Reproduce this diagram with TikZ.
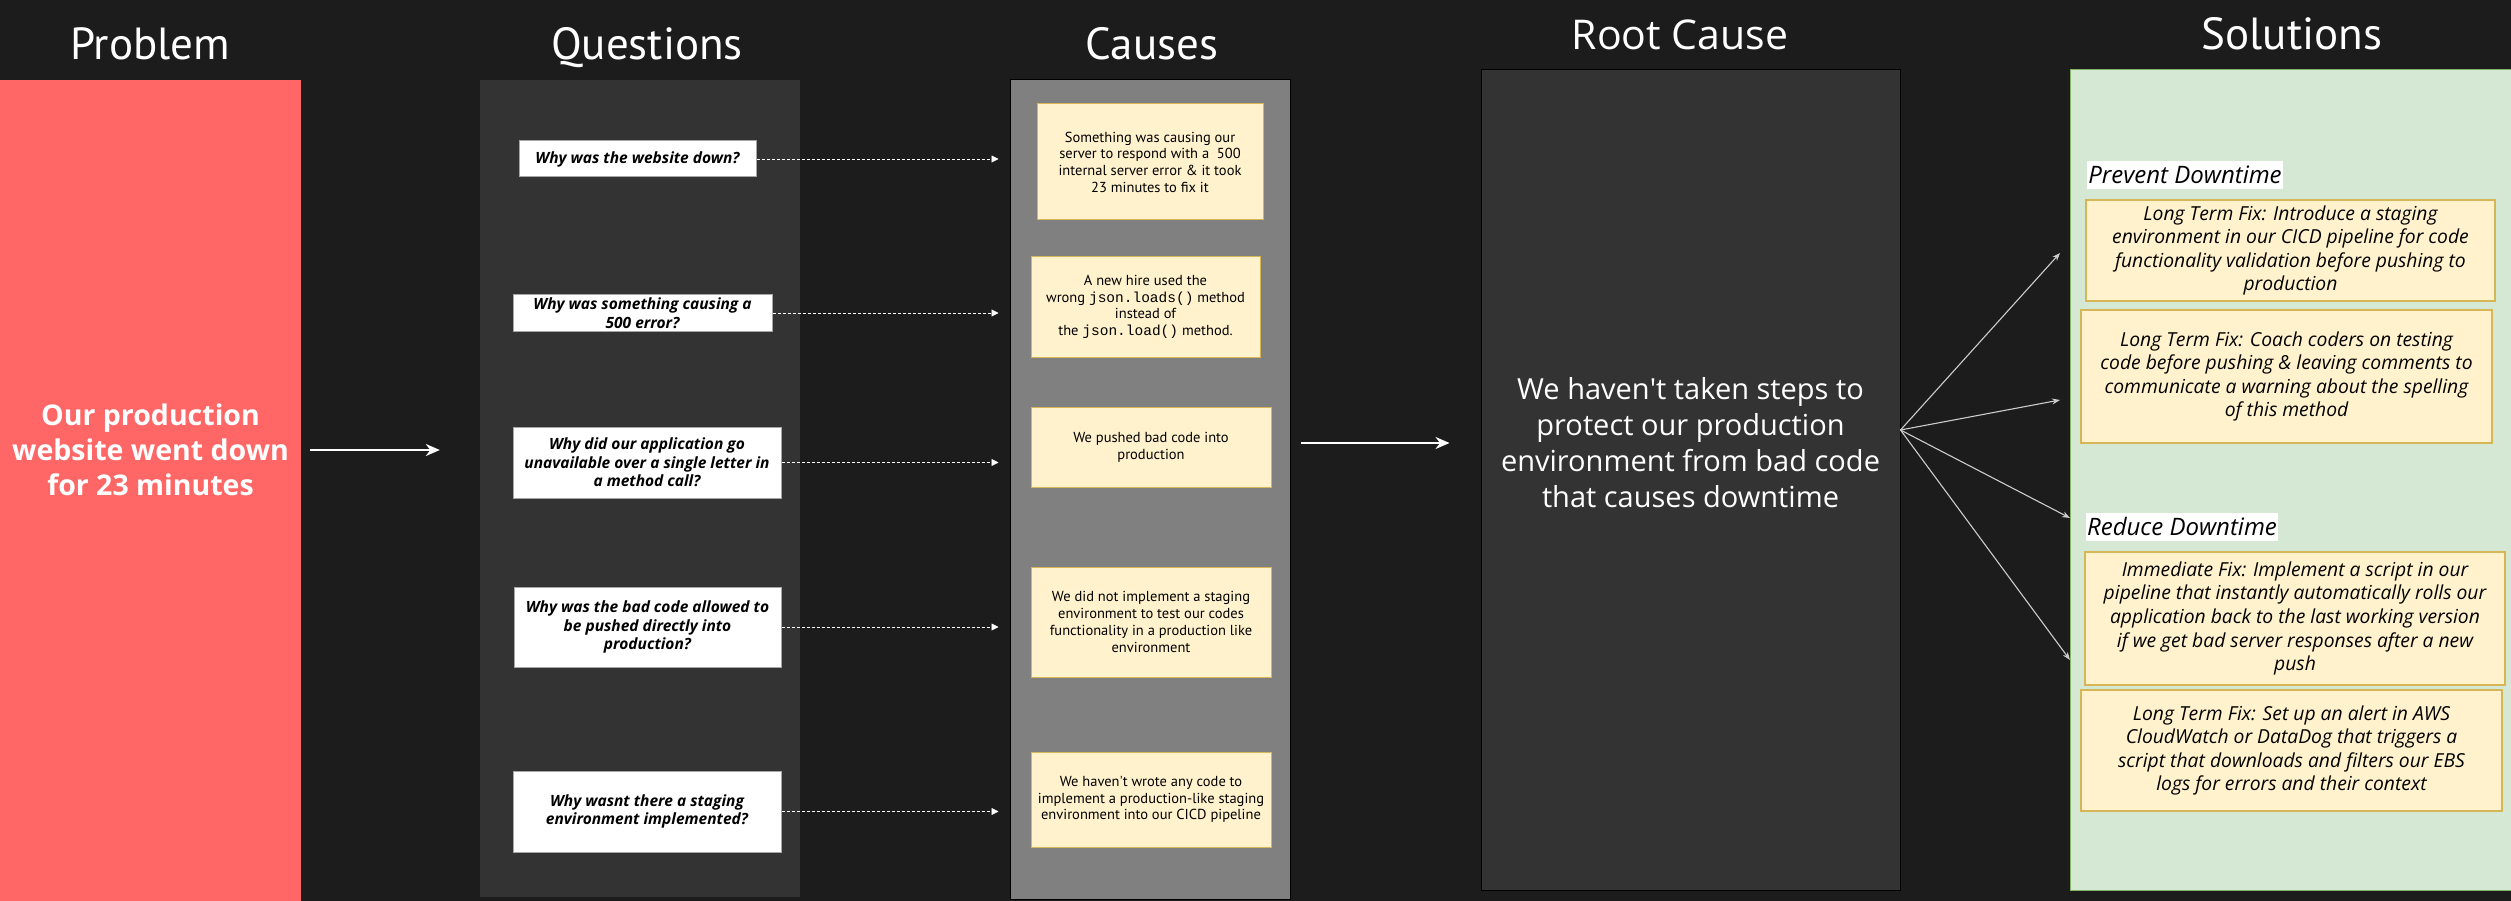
\documentclass[tikz,border=0pt]{standalone}
\usepackage{fontspec}
\setmainfont{Open Sans}
\newfontfamily\handfont{PT Sans}
\setmonofont{Liberation Mono}
\usetikzlibrary{arrows.meta,positioning}

\definecolor{bgdark}{HTML}{1C1C1C}
\definecolor{probred}{HTML}{FF6666}
\definecolor{darkpanel}{HTML}{333333}
\definecolor{greypanel}{HTML}{808080}
\definecolor{notefill}{HTML}{FFF2CC}
\definecolor{noteline}{HTML}{D6B656}
\definecolor{solfill}{HTML}{D5E8D4}
\definecolor{solline}{HTML}{82B366}

\newcommand{\headfont}{\handfont\fontsize{45}{50}\selectfont}
\newcommand{\probfont}{\bfseries\fontsize{28.5}{35}\selectfont}
\newcommand{\rootfont}{\fontsize{29}{36}\selectfont}
\newcommand{\questfont}{\bfseries\itshape\fontsize{15.5}{18.7}\selectfont}
\newcommand{\causefont}{\handfont\fontsize{14.5}{16.7}\selectfont}
\newcommand{\fixfont}{\itshape\fontsize{19.3}{23.6}\selectfont}

\begin{document}
\begin{tikzpicture}[x=1pt,y=-1pt,
  box/.style={rectangle,inner sep=0pt,align=center},
  panel/.style={box,draw=black,line width=1pt},
  heading/.style={text=white,anchor=base,font=\headfont},
  question/.style={box,fill=white,draw=gray!70,line width=1pt,font=\questfont},
  cause/.style={box,fill=notefill,draw=noteline,line width=1pt,font=\causefont},
  fix/.style={box,fill=notefill,draw=noteline,line width=1.5pt,font=\fixfont},
  tag/.style={fill=white,text=black,inner xsep=1pt,inner ysep=0pt,minimum height=28pt,font=\itshape\fontsize{24}{28}\selectfont},
  bigarrow/.style={draw=white,line width=2pt,-{Stealth[length=14pt,width=12pt]}},
  dasharrow/.style={draw=white,line width=0.8pt,dash pattern=on 3pt off 2pt,-{Triangle[length=7pt,width=7pt]}},
  fanarrow/.style={draw=gray!40,line width=1.1pt,-{Stealth[length=8pt,width=6pt]}}]
\useasboundingbox (0,0) rectangle (2511,901);
\fill[bgdark] (0,0) rectangle (2511,901);

% column titles
\node[heading] (tprob) at (150,60) {Problem};
\node[heading] (tquest) at (647,60) {Questions};
\node[heading] (tcause) at (1152,60) {Causes};
\node[heading,font=\fontsize{41}{46}\selectfont] (troot) at (1680,50) {Root Cause};
\node[heading] (tsol) at (2292,50) {Solutions};

% panels
\node[box,fill=probred,minimum width=301pt,minimum height=821pt] (prob) at (150.5,490.5) {};
\node[box,text=white,font=\probfont] (probtext) at (150.5,450) {Our production\\website went down\\for 23 minutes};
\node[box,fill=darkpanel,minimum width=320pt,minimum height=817pt] (qpanel) at (640,488.5) {};
\node[panel,fill=greypanel,minimum width=280pt,minimum height=819pt] (causes) at (1150,489.5) {};
\node[panel,fill=darkpanel,minimum width=419pt,minimum height=820pt] (root) at (1690.5,480) {};
\node[box,text=white,font=\rootfont] (roottext) at (1690.5,443) {We haven\textquotesingle t taken steps to\\protect our production\\environment from bad code\\that causes downtime};
\node[panel,draw=solline,fill=solfill,minimum width=445pt,minimum height=820pt] (sol) at (2292.5,480) {};

% questions
\node[question,minimum width=237pt,minimum height=36pt] (q1) at (637.5,159) {Why was the website down?};
\node[question,minimum width=259pt,minimum height=36pt] (q2) at (642.5,313) {Why was something causing a\\500 error?};
\node[question,minimum width=268pt,minimum height=71pt] (q3) at (647,462.5) {Why did our application go\\unavailable over a single letter in\\a method call?};
\node[question,minimum width=267pt,minimum height=80pt] (q4) at (647.5,627) {Why was the bad code allowed to\\be pushed directly into\\production?};
\node[question,minimum width=268pt,minimum height=81pt] (q5) at (647,811.5) {Why wasnt there a staging\\environment implemented?};

% causes
\node[cause,minimum width=226pt,minimum height=116pt] (c1) at (1150,162) {Something was causing our\\server to respond with a \ 500\\internal server error \& it took\\23 minutes to fix it};
\node[cause,minimum width=229pt,minimum height=100pt] (c2) at (1145.5,307) {A new hire used the\\wrong \texttt{json.loads()} method\\instead of\\the \texttt{json.load()} method.};
\node[cause,minimum width=240pt,minimum height=80pt] (c3) at (1151,447) {We pushed bad code into\\production};
\node[cause,minimum width=240pt,minimum height=110pt] (c4) at (1151,622) {We did not implement a staging\\environment to test our codes\\functionality in a production like\\environment};
\node[cause,minimum width=240pt,minimum height=95pt] (c5) at (1151,799.5) {We haven\textquotesingle t wrote any code to\\implement a production-like staging\\environment into our CICD pipeline};

% solutions
\node[tag] (prevent) at (2185,175) {Prevent Downtime};
\node[fix,minimum width=409pt,minimum height=101pt] (s1) at (2290.5,250.5) {Long Term Fix: Introduce a staging\\environment in our CICD pipeline for code\\functionality validation before pushing to\\production};
\node[fix,minimum width=411pt,minimum height=133pt] (s2) at (2286.5,376.5) {Long Term Fix: Coach coders on testing\\code before pushing \& leaving comments to\\communicate a warning about the spelling\\of this method};
\node[tag] (reduce) at (2182,526.5) {Reduce Downtime};
\node[fix,minimum width=420pt,minimum height=133pt] (s3) at (2295,618.5) {Immediate Fix: Implement a script in our\\pipeline that instantly automatically rolls our\\application back to the last working version\\if we get bad server responses after a new\\push};
\node[fix,minimum width=421pt,minimum height=121pt] (s4) at (2291.5,750.5) {Long Term Fix: Set up an alert in AWS\\CloudWatch or DataDog that triggers a\\script that downloads and filters our EBS\\logs for errors and their context};

% connectors
\draw[bigarrow,shorten <=9pt,shorten >=40pt] (probtext -| prob.east) -- (probtext -| qpanel.west);
\foreach \i in {1,...,5}
  \draw[dasharrow,shorten >=11pt] (q\i.east) -- (q\i.east -| causes.west);
\draw[bigarrow,shorten <=10pt,shorten >=31pt] (roottext -| causes.east) -- (roottext -| root.west);

\coordinate (fan) at ([yshift=50pt]root.east);
\coordinate (tip1) at (2060,253);
\coordinate (tip2) at (2060,400);
\coordinate (tip3) at (2070,518);
\coordinate (tip4) at (2070,660);
\foreach \t in {tip1,tip2,tip3,tip4}
  \draw[fanarrow] (fan) -- (\t);
\end{tikzpicture}
\end{document}
